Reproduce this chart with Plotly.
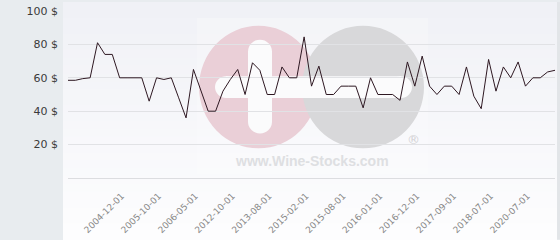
import plotly.graph_objects as go

# ---- data ----
values = [58.5, 58.5, 59.5, 60, 81, 74, 74, 60, 60, 60, 60, 46, 60, 59, 60, 48, 36,
          65, 52, 40, 40, 52, 59, 65, 50, 69, 64.5, 50, 50, 66.5, 60, 60, 84.5, 55,
          67, 50, 50, 55, 55, 55, 42, 60, 50, 50, 50, 46.5, 69.5, 55, 73, 55, 50,
          55, 55, 50, 66.5, 49, 41.5, 71, 52, 66.5, 60, 69.5, 55, 60, 60, 63.5, 64.5]
tick_labels = ["2004-12-01", "2005-10-01", "2006-05-01", "2012-10-01", "2013-08-01",
               "2015-02-01", "2015-08-01", "2016-01-01", "2016-12-01", "2017-09-01",
               "2018-07-01", "2020-07-01"]
tick_index = [7, 12, 17, 22, 27, 32, 37, 42, 47, 52, 57, 62]
y_ticks = [20, 40, 60, 80, 100]
y_tick_labels = [f"{v} $" for v in y_ticks]

W, H = 560, 240
ML, MR, MT, MB = 68, 5, 9, 62
PW, PH = W - ML - MR, H - MT - MB


def px(x):
    return (x - ML) / PW


def py(y):
    return (H - MB - y) / PH


shapes = []
# gradient background for chart panel
n = 30
c0 = (240, 241, 246)
c1 = (253, 253, 254)
for i in range(n):
    t = i / (n - 1)
    col = tuple(round(c0[k] + (c1[k] - c0[k]) * t) for k in range(3))
    shapes.append(dict(type="rect", xref="paper", yref="paper",
                       x0=px(63), x1=px(557), y0=py(i * H / n), y1=py((i + 1) * H / n + 1),
                       fillcolor="rgb(%d,%d,%d)" % col, line=dict(width=0), layer="below"))
# right border strip
shapes.append(dict(type="rect", xref="paper", yref="paper", x0=px(557), x1=px(560),
                   y0=py(0), y1=py(240), fillcolor="#e2e5e8", line=dict(width=0), layer="below"))
# watermark: faint white box
shapes.append(dict(type="rect", xref="paper", yref="paper", x0=px(197), x1=px(428),
                   y0=py(16), y1=py(174), fillcolor="rgba(255,255,255,0.22)",
                   line=dict(width=0), layer="below"))
# pink circle
shapes.append(dict(type="circle", xref="paper", yref="paper", x0=px(199), x1=px(318),
                   y0=py(24), y1=py(148), fillcolor="#eacfd7", line=dict(width=0), layer="below"))
# gray circle
shapes.append(dict(type="circle", xref="paper", yref="paper", x0=px(302), x1=px(424),
                   y0=py(24), y1=py(148), fillcolor="#d8d8da", line=dict(width=0), layer="below"))
WHITE = "#fbfbfc"
# vertical bar of the cross
shapes.append(dict(type="rect", xref="paper", yref="paper", x0=px(248), x1=px(272),
                   y0=py(50), y1=py(121), fillcolor=WHITE, line=dict(width=0), layer="below"))
for cy in (50, 121):
    shapes.append(dict(type="circle", xref="paper", yref="paper", x0=px(248), x1=px(272),
                       y0=py(cy - 12), y1=py(cy + 12), fillcolor=WHITE, line=dict(width=0),
                       layer="below"))
# horizontal bar
shapes.append(dict(type="rect", xref="paper", yref="paper", x0=px(226), x1=px(401),
                   y0=py(75), y1=py(97), fillcolor=WHITE, line=dict(width=0), layer="below"))
for cx in (226, 401):
    shapes.append(dict(type="circle", xref="paper", yref="paper", x0=px(cx - 11), x1=px(cx + 11),
                       y0=py(75), y1=py(97), fillcolor=WHITE, line=dict(width=0), layer="below"))

annotations = [
    dict(text="<b>www.Wine-Stocks.com</b>", xref="paper", yref="paper", x=px(312), y=py(161),
         showarrow=False, font=dict(family="Liberation Sans, Arial", size=14, color="#dedfe2"),
         xanchor="center", yanchor="middle"),
    dict(text="®", xref="paper", yref="paper", x=px(413), y=py(139), showarrow=False,
         font=dict(family="DejaVu Sans", size=13, color="#d2d2d4"), xanchor="center", yanchor="middle"),
]

fig = go.Figure()
fig.add_trace(go.Scatter(x=list(range(len(values))), y=values, mode="lines",
                         line=dict(color="#2e1822", width=1), hoverinfo="skip"))

fig.update_layout(
    width=W, height=H,
    margin=dict(l=ML, r=MR, t=MT, b=MB, pad=0),
    paper_bgcolor="#e8ecef",
    plot_bgcolor="rgba(0,0,0,0)",
    showlegend=False,
    shapes=shapes,
    annotations=annotations,
    xaxis=dict(range=[0, len(values) - 1], tickvals=tick_index, ticktext=tick_labels,
               tickangle=-45, showgrid=False, zeroline=False, showline=False, ticks="",
               tickfont=dict(family="DejaVu Sans", size=9, color="#888888"),
               ticklabelstandoff=10, ticklabelshift=2, fixedrange=True),
    yaxis=dict(range=[0, 100], tickvals=y_ticks, ticktext=y_tick_labels,
               showgrid=True, gridcolor="#e1e2e5", gridwidth=1,
               zeroline=True, zerolinecolor="#dcdde0", zerolinewidth=1,
               showline=False, ticks="",
               tickfont=dict(family="DejaVu Sans", size=11, color="#3a3a3a"),
               ticklabelstandoff=9, fixedrange=True),
)

fig.write_html("out.html", config={"displayModeBar": False})
